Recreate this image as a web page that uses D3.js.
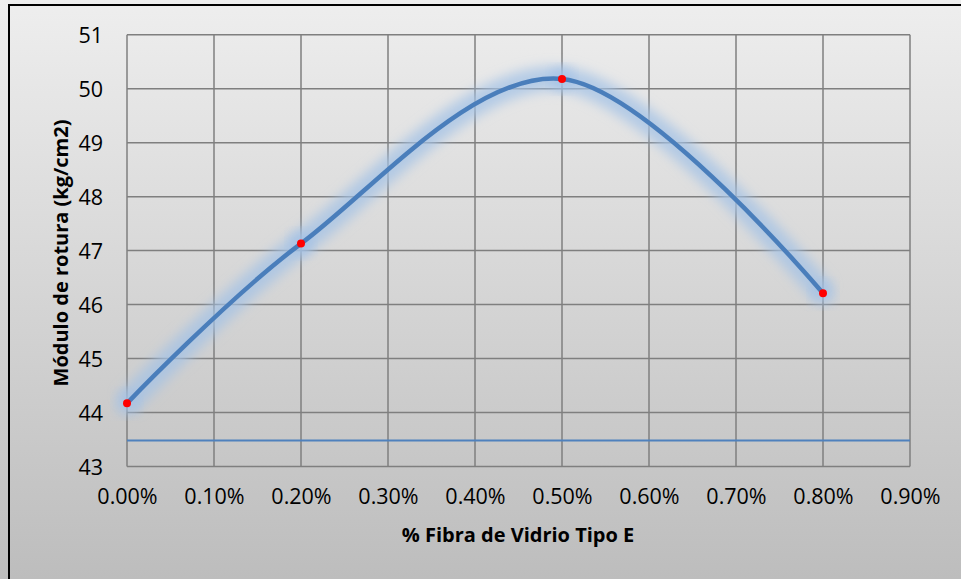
<!DOCTYPE html>
<html>
<head>
<meta charset="utf-8">
<script src="https://cdn.jsdelivr.net/npm/d3@7"></script>
<style>
  body { margin: 0; overflow: hidden; }
  text { font-family: "Open Sans", sans-serif; fill: #000; }
</style>
</head>
<body>
<div id="chart"></div>
<script>
// data
const fibra = [0, 0.002, 0.005, 0.008];
const modulo = [44.17, 47.13, 50.18, 46.21];
const lineaBase = 43.48;
const xTicks = [0, 0.001, 0.002, 0.003, 0.004, 0.005, 0.006, 0.007, 0.008, 0.009];
const yTicks = [43, 44, 45, 46, 47, 48, 49, 50, 51];

const W = 961, H = 579;
const plot = { left: 127, right: 910, top: 34.7, bottom: 466.5 };

const svg = d3.select("#chart").append("svg")
    .attr("width", W)
    .attr("height", H);

const defs = svg.append("defs");
const grad = defs.append("linearGradient")
    .attr("id", "bg")
    .attr("x1", 0).attr("y1", 0).attr("x2", 0).attr("y2", 1);
grad.append("stop").attr("offset", "0%").attr("stop-color", "#eeeeee");
grad.append("stop").attr("offset", "100%").attr("stop-color", "#bdbdbd");

const glow = defs.append("filter")
    .attr("id", "glow")
    .attr("x", "-20%").attr("y", "-20%")
    .attr("width", "140%").attr("height", "140%");
glow.append("feGaussianBlur").attr("stdDeviation", 6);

// background + border (chart extends past right/bottom edge)
svg.append("rect")
    .attr("x", 0).attr("y", 0)
    .attr("width", W).attr("height", H)
    .attr("fill", "url(#bg)");
svg.append("rect")
    .attr("x", 9).attr("y", 5)
    .attr("width", 1000).attr("height", 700)
    .attr("fill", "none")
    .attr("stroke", "#000")
    .attr("stroke-width", 2);

const x = d3.scaleLinear().domain([0, 0.009]).range([plot.left, plot.right]);
const y = d3.scaleLinear().domain([43, 51]).range([plot.bottom, plot.top]);

// grid
const grid = svg.append("g").attr("stroke", "#7f7f7f").attr("stroke-width", 1.5);
grid.selectAll("line.v").data(xTicks).enter().append("line")
    .attr("x1", (d) => x(d)).attr("x2", (d) => x(d))
    .attr("y1", plot.top).attr("y2", plot.bottom);
grid.selectAll("line.h").data(yTicks).enter().append("line")
    .attr("x1", plot.left).attr("x2", plot.right)
    .attr("y1", (d) => y(d)).attr("y2", (d) => y(d));

// axes (labels only)
const xAxis = svg.append("g")
    .attr("transform", "translate(0," + plot.bottom + ")")
    .call(d3.axisBottom(x).tickValues(xTicks).tickFormat(d3.format(".2%")).tickSize(0).tickPadding(22));
const yAxis = svg.append("g")
    .attr("transform", "translate(" + plot.left + ",0)")
    .call(d3.axisLeft(y).tickValues(yTicks).tickFormat(d3.format("d")).tickSize(0).tickPadding(24));
[xAxis, yAxis].forEach((a) => {
    a.select(".domain").remove();
    a.selectAll("text")
        .attr("font-family", "Open Sans, sans-serif")
        .attr("font-size", 21.5)
        .attr("fill", "#000");
});
yAxis.selectAll("text").attr("dy", "0.36em");

// horizontal reference line
svg.append("line")
    .attr("x1", plot.left).attr("x2", plot.right)
    .attr("y1", y(lineaBase)).attr("y2", y(lineaBase))
    .attr("stroke", "#4f81bd")
    .attr("stroke-width", 2);

const pts = fibra.map((f, i) => [f, modulo[i]]);
const line = d3.line()
    .x((d) => x(d[0]))
    .y((d) => y(d[1]))
    .curve(d3.curveCatmullRom.alpha(0));

// soft glow under the curve
svg.append("path")
    .attr("d", line(pts))
    .attr("fill", "none")
    .attr("stroke", "#a3c1e6")
    .attr("stroke-width", 24)
    .attr("stroke-opacity", 0.75)
    .attr("filter", "url(#glow)");
svg.selectAll("circle.halo").data(pts).enter().append("circle")
    .attr("cx", (d) => x(d[0])).attr("cy", (d) => y(d[1]))
    .attr("r", 12)
    .attr("fill", "#a3c1e6")
    .attr("opacity", 0.7)
    .attr("filter", "url(#glow)");

svg.append("path")
    .attr("d", line(pts))
    .attr("fill", "none")
    .attr("stroke", "#4a7ebb")
    .attr("stroke-width", 4.5)
    .attr("stroke-linecap", "round");

svg.selectAll("circle.pt").data(pts).enter().append("circle")
    .attr("cx", (d) => x(d[0])).attr("cy", (d) => y(d[1]))
    .attr("r", 4)
    .attr("fill", "#ff0000");

// axis titles
svg.append("text")
    .attr("x", 518).attr("y", 542)
    .attr("text-anchor", "middle")
    .attr("font-weight", "bold")
    .attr("font-size", 20)
    .text("% Fibra de Vidrio Tipo E");
svg.append("text")
    .attr("transform", "translate(68,253) rotate(-90)")
    .attr("text-anchor", "middle")
    .attr("font-weight", "bold")
    .attr("font-size", 20)
    .text("Módulo de rotura (kg/cm2)");
</script>
</body>
</html>
